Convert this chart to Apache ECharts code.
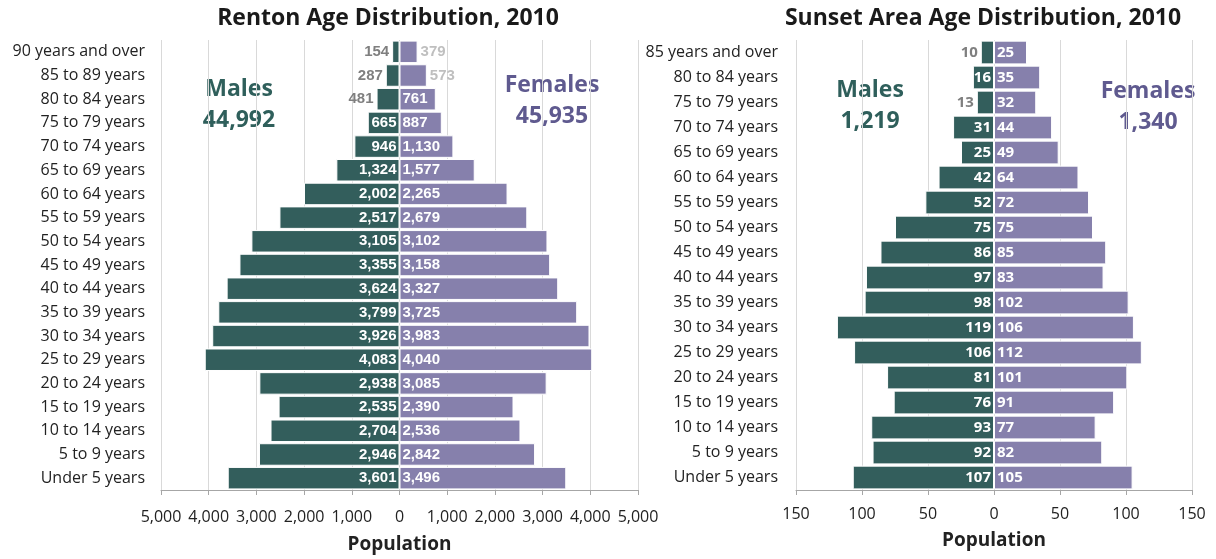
<!DOCTYPE html>
<html>
<head>
<meta charset="utf-8">
<title></title>
<script src="https://cdn.jsdelivr.net/npm/echarts@6/dist/echarts.min.js"></script>
<style>
html, body { margin: 0; padding: 0; background: #fff; }
#main { width: 1216px; height: 559px; }
</style>
</head>
<body>
<div id="main"></div>
<script type="text/javascript">
// age groups, listed from the bottom of the chart upward
var rentonAges = ['Under 5 years', '5 to 9 years', '10 to 14 years', '15 to 19 years', '20 to 24 years',
	'25 to 29 years', '30 to 34 years', '35 to 39 years', '40 to 44 years', '45 to 49 years',
	'50 to 54 years', '55 to 59 years', '60 to 64 years', '65 to 69 years', '70 to 74 years',
	'75 to 79 years', '80 to 84 years', '85 to 89 years', '90 years and over'];
var rentonMales = [3601, 2946, 2704, 2535, 2938, 4083, 3926, 3799, 3624, 3355, 3105, 2517, 2002, 1324, 946, 665, 481, 287, 154];
var rentonFemales = [3496, 2842, 2536, 2390, 3085, 4040, 3983, 3725, 3327, 3158, 3102, 2679, 2265, 1577, 1130, 887, 761, 573, 379];

var sunsetAges = ['Under 5 years', '5 to 9 years', '10 to 14 years', '15 to 19 years', '20 to 24 years',
	'25 to 29 years', '30 to 34 years', '35 to 39 years', '40 to 44 years', '45 to 49 years',
	'50 to 54 years', '55 to 59 years', '60 to 64 years', '65 to 69 years', '70 to 74 years',
	'75 to 79 years', '80 to 84 years', '85 years and over'];
var sunsetMales = [107, 92, 93, 76, 81, 106, 119, 98, 97, 86, 75, 52, 42, 25, 31, 13, 16, 10];
var sunsetFemales = [105, 82, 77, 91, 101, 112, 106, 102, 83, 85, 75, 72, 64, 49, 44, 32, 35, 25];

var rentonTicks = [-5000, 5000, 1000];
var sunsetTicks = [-150, 150, 50];

var maleColor = '#335e5c';
var femaleColor = '#8680ac';

function fmt(v) {
	return Math.abs(v).toLocaleString('en-US');
}
function sum(arr) {
	var s = 0;
	for (var i = 0; i < arr.length; i++) s += arr[i];
	return s;
}

// small bars get their label outside, in grey
function buildSeries(idx, males, females, maleMin, femaleMin, labelFont, labelSize) {
	var mData = [], fData = [];
	for (var i = 0; i < males.length; i++) {
		var m = { value: -males[i] };
		if (males[i] < maleMin) m.label = { position: 'left', color: '#7f7f7f' };
		mData.push(m);
		var f = { value: females[i] };
		if (females[i] < femaleMin) f.label = { position: 'right', color: '#bfbfbf' };
		fData.push(f);
	}
	var common = {
		type: 'bar',
		stack: 'pyr' + idx,
		xAxisIndex: idx,
		yAxisIndex: idx,
		barCategoryGap: '5%',
		animation: false
	};
	return [
		Object.assign({}, common, {
			name: 'Males',
			data: mData,
			itemStyle: { color: maleColor, borderColor: '#fff', borderWidth: 1 },
			label: { show: true, position: 'insideRight', distance: 3, color: '#fff',
				fontFamily: labelFont, fontWeight: 'bold', fontSize: labelSize,
				formatter: function (p) { return fmt(p.value); } }
		}),
		Object.assign({}, common, {
			name: 'Females',
			data: fData,
			itemStyle: { color: femaleColor, borderColor: '#fff', borderWidth: 1 },
			label: { show: true, position: 'insideLeft', distance: 3, color: '#fff',
				fontFamily: labelFont, fontWeight: 'bold', fontSize: labelSize,
				formatter: function (p) { return fmt(p.value); } }
		})
	];
}

function xAxisOf(idx, ticks, margin, nameGap) {
	return {
		gridIndex: idx,
		type: 'value',
		min: ticks[0], max: ticks[1], interval: ticks[2],
		name: 'Population',
		nameLocation: 'middle',
		nameGap: nameGap,
		nameTextStyle: { fontFamily: 'Open Sans', fontWeight: 'bold', fontSize: 19, color: '#222' },
		axisLine: { show: true, lineStyle: { color: '#a6a6a6', width: 1 } },
		axisTick: { show: true, length: 5, lineStyle: { color: '#a6a6a6' } },
		splitLine: { show: true, lineStyle: { color: '#d9d9d9', width: 1 } },
		axisLabel: { margin: margin, fontFamily: 'Open Sans', fontSize: 16, color: '#222',
			formatter: function (v) { return fmt(v); } }
	};
}

function yAxisOf(idx, cats, margin) {
	return {
		gridIndex: idx,
		type: 'category',
		data: cats,
		axisLine: { show: false },
		axisTick: { show: false },
		splitLine: { show: false },
		axisLabel: { margin: margin, fontFamily: 'Open Sans', fontSize: 16, color: '#222' }
	};
}

function bigText(x, y, txt, color) {
	return {
		type: 'text', x: x, y: y,
		style: { text: txt, fill: color, font: 'bold 23px "Open Sans"', textAlign: 'center',
			textVerticalAlign: 'top', lineHeight: 31 }
	};
}

var chart = echarts.init(document.getElementById('main'));
var option = {
	backgroundColor: '#fff',
	title: [
		{ text: 'Renton Age Distribution, 2010', left: 383, top: 2, textAlign: 'center',
			textStyle: { fontFamily: 'Open Sans', fontWeight: 'bold', fontSize: 23, color: '#1a1a1a' } },
		{ text: 'Sunset Area Age Distribution, 2010', left: 978, top: 2, textAlign: 'center',
			textStyle: { fontFamily: 'Open Sans', fontWeight: 'bold', fontSize: 23, color: '#1a1a1a' } }
	],
	grid: [
		{ left: 161, right: 578, top: 40, bottom: 68 },
		{ left: 796, right: 24, top: 40, bottom: 69 }
	],
	xAxis: [xAxisOf(0, rentonTicks, 19, 45), xAxisOf(1, sunsetTicks, 16, 41)],
	yAxis: [yAxisOf(0, rentonAges, 16), yAxisOf(1, sunsetAges, 18)],
	series: buildSeries(0, rentonMales, rentonFemales, 600, 600, 'Liberation Sans', 15)
		.concat(buildSeries(1, sunsetMales, sunsetFemales, 15, 0, 'Open Sans', 15)),
	graphic: [
		bigText(239, 74, 'Males\n' + fmt(sum(rentonMales)), '#2f5f5b'),
		bigText(552, 70, 'Females\n' + fmt(sum(rentonFemales)), '#5f5a8f'),
		bigText(870, 75, 'Males\n' + fmt(sum(sunsetMales)), '#2f5f5b'),
		bigText(1148, 76, 'Females\n' + fmt(sum(sunsetFemales)), '#5f5a8f')
	]
};
chart.setOption(option);
</script>
</body>
</html>
